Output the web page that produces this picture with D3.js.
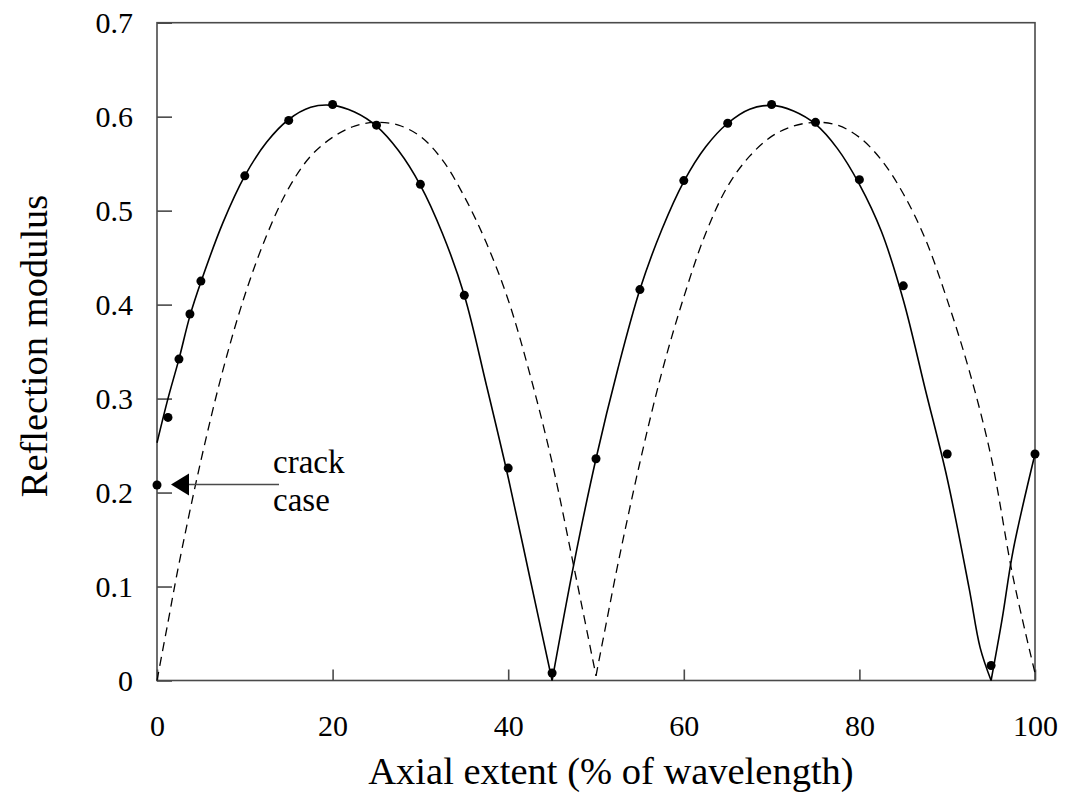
<!DOCTYPE html>
<html>
<head>
<meta charset="utf-8">
<script src="https://cdn.jsdelivr.net/npm/d3@7"></script>
<style>
  html, body { margin: 0; padding: 0; background: #fff; }
  text { font-family: "Liberation Serif", "Times New Roman", serif; fill: #000; }
</style>
</head>
<body>
<svg id="chart" width="1066" height="796"></svg>
<script>
// ---- data ----
const xTicks = [0, 20, 40, 60, 80, 100];
const yTicks = [0, 0.1, 0.2, 0.3, 0.4, 0.5, 0.6, 0.7];
const xTickLabels = ["0", "20", "40", "60", "80", "100"];
const yTickLabels = ["0", "0.1", "0.2", "0.3", "0.4", "0.5", "0.6", "0.7"];

// measured points (filled circles)
const dotX = [0, 1.25, 2.5, 3.75, 5, 10, 15, 20, 25, 30, 35, 40, 45, 50, 55, 60, 65, 70, 75, 80, 85, 90, 95, 100];
const dotY = [0.208, 0.280, 0.342, 0.390, 0.425, 0.537, 0.596, 0.613, 0.591, 0.528, 0.410, 0.226, 0.008, 0.236,
              0.416, 0.532, 0.593, 0.613, 0.594, 0.533, 0.420, 0.241, 0.016, 0.241];

// solid curve
const solidX = [0, 1.25, 2.5, 3.75, 5, 7.5, 10, 12.5, 15, 17.5, 20, 22.5, 25, 27.5, 30, 32.5, 35, 37.5, 40, 42.5, 45,
                47.5, 50, 52.5, 55, 57.5, 60, 62.5, 65, 67.5, 70, 72.5, 75, 77.5, 80, 82.5, 85, 87.5, 90, 92.5, 93.75, 95,
                96.25, 97.5, 100];
const solidY = [0.253, 0.300, 0.342, 0.388, 0.424, 0.487, 0.537, 0.573, 0.597, 0.610, 0.612, 0.605, 0.590, 0.564, 0.527,
                0.476, 0.410, 0.315, 0.216, 0.108, 0.000,
                0.125, 0.236, 0.332, 0.416, 0.480, 0.531, 0.568, 0.593, 0.608, 0.612, 0.606, 0.592, 0.566, 0.528,
                0.478, 0.405, 0.310, 0.215, 0.098, 0.035, 0.000,
                0.065, 0.138, 0.241];

// dashed curve
const dashX = [0, 1.25, 2.5, 5, 7.5, 10, 12.5, 15, 17.5, 20, 22.5, 25, 27.5, 30, 32.5, 35, 37.5, 40, 42.5, 45, 47.5, 50,
               51.25, 52.5, 55, 57.5, 60, 62.5, 65, 67.5, 70, 72.5, 75, 77.5, 80, 82.5, 85, 87.5, 90, 92.5, 95, 97.5, 100];
const dashY = [0.000, 0.062, 0.124, 0.234, 0.330, 0.410, 0.474, 0.524, 0.558, 0.578, 0.590, 0.594, 0.591, 0.579, 0.554,
               0.515, 0.466, 0.405, 0.325, 0.232, 0.120, 0.005,
               0.065, 0.124, 0.232, 0.328, 0.408, 0.476, 0.526, 0.558, 0.579, 0.590, 0.594, 0.591, 0.578, 0.554,
               0.518, 0.470, 0.405, 0.330, 0.238, 0.110, 0.008];

const xTitle = "Axial extent (% of wavelength)";
const yTitle = "Reflection modulus";
const annotation = ["crack", "case"];
const annotatedPoint = 0; // index into dots

// ---- drawing ----
const svg = d3.select("#chart");
const x = d3.scaleLinear().domain([0, 100]).range([157, 1035]);
const y = d3.scaleLinear().domain([0, 0.7]).range([680.5, 22.7]);
const axisColor = "#4a4a4a";

// frame
svg.append("rect")
  .attr("x", x(0)).attr("y", y(0.7))
  .attr("width", x(100) - x(0)).attr("height", y(0) - y(0.7))
  .attr("fill", "none").attr("stroke", axisColor).attr("stroke-width", 1.6);

// axes with inward ticks
const yAxis = d3.axisLeft(y).tickValues(yTicks).tickSize(-15).tickPadding(24)
  .tickFormat((d, i) => yTickLabels[i]);
const gy = svg.append("g").attr("transform", `translate(${x(0)},0)`).call(yAxis);
const xAxis = d3.axisBottom(x).tickValues(xTicks).tickSize(-11).tickPadding(34)
  .tickFormat((d, i) => xTickLabels[i]);
const gx = svg.append("g").attr("transform", `translate(0,${y(0)})`).call(xAxis);
[gx, gy].forEach(g => {
  g.select(".domain").remove();
  g.selectAll(".tick line").attr("stroke", axisColor).attr("stroke-width", 1.6);
  g.selectAll(".tick text").style("font-family", '"Liberation Serif", serif').style("font-size", "30px").attr("fill", "#000");
});

// split series at interior local minima so troughs stay sharp
function segments(xs, ys) {
  const pts = xs.map((v, i) => [v, ys[i]]);
  const segs = [];
  let cur = [pts[0]];
  for (let i = 1; i < pts.length; i++) {
    cur.push(pts[i]);
    if (i < pts.length - 1 && ys[i] < ys[i - 1] && ys[i] < ys[i + 1]) {
      segs.push(cur);
      cur = [pts[i]];
    }
  }
  segs.push(cur);
  return segs;
}
const line = d3.line().x(d => x(d[0])).y(d => y(d[1])).curve(d3.curveCatmullRom.alpha(0.5));

svg.append("g").selectAll("path").data(segments(dashX, dashY)).join("path")
  .attr("d", line).attr("fill", "none").attr("stroke", "#000")
  .attr("stroke-width", 1.3).attr("stroke-dasharray", "9,6");

svg.append("g").selectAll("path").data(segments(solidX, solidY)).join("path")
  .attr("d", line).attr("fill", "none").attr("stroke", "#000").attr("stroke-width", 1.6);

svg.append("g").selectAll("circle").data(dotX.map((v, i) => [v, dotY[i]])).join("circle")
  .attr("cx", d => x(d[0])).attr("cy", d => y(d[1])).attr("r", 4.5).attr("fill", "#000");

// annotation arrow
const ay = y(dotY[annotatedPoint]) - 0.5;
const tipX = x(dotX[annotatedPoint]) + 14;
svg.append("line").attr("x1", tipX + 17).attr("x2", tipX + 108).attr("y1", ay).attr("y2", ay)
  .attr("stroke", axisColor).attr("stroke-width", 1.6);
svg.append("path")
  .attr("d", `M${tipX},${ay} L${tipX + 18},${ay - 11} L${tipX + 18},${ay + 11} Z`)
  .attr("fill", "#000");
svg.append("text").attr("x", 273).attr("y", 473).style("font-size", "33px").text(annotation[0]);
svg.append("text").attr("x", 273).attr("y", 511).style("font-size", "33px").text(annotation[1]);

// axis titles
svg.append("text").attr("x", 611).attr("y", 784).attr("text-anchor", "middle")
  .style("font-size", "38.5px").text(xTitle);
svg.append("text").attr("transform", "translate(47,346) rotate(-90)").attr("text-anchor", "middle")
  .style("font-size", "38.5px").text(yTitle);
</script>
</body>
</html>
